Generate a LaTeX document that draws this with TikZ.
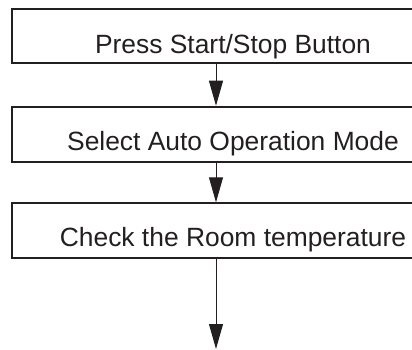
\documentclass[tikz,border=0pt]{standalone}
\usepackage{fontspec}
\setmainfont{Liberation Sans}
\usetikzlibrary{arrows.meta}
\definecolor{ink}{HTML}{231F20}
\begin{document}
\begin{tikzpicture}[x=1pt,y=-1pt,
  stepbox/.style={draw=ink,line width=2pt,inner sep=0pt,minimum width=442pt,
    text=ink,font=\fontsize{26.4pt}{30pt}\selectfont},
  flow/.style={draw=ink,line width=1pt,-{Triangle[length=25pt,width=14pt]}}]
\useasboundingbox (0,0) rectangle (412,349);
\clip (0,0) rectangle (412,349);
\node[stepbox,text height=44.3pt,text depth=9.7pt] (b1) at (233,36) {Press Start/Stop Button};
\node[stepbox,text height=43.5pt,text depth=11.5pt] (b2) at (233,134.2) {Select Auto Operation Mode};
\node[stepbox,text height=43.5pt,text depth=11.5pt] (b3) at (233,230.8) {Check the Room temperature};
\coordinate (end) at (216,349);
\draw[flow] (b1.south -| end) -- (b2.north -| end);
\draw[flow] (b2.south -| end) -- (b3.north -| end);
\draw[flow] (b3.south -| end) -- (end);
\end{tikzpicture}
\end{document}
